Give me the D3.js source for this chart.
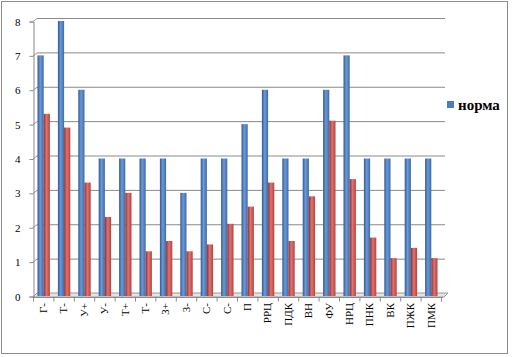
<!DOCTYPE html>
<html><head><meta charset="utf-8">
<script src="https://cdn.jsdelivr.net/npm/d3@7"></script>
<style>body{margin:0;background:#fff}svg{display:block}</style>
</head><body>
<script>
const categories = ["Г-","Т-","У+","У-","Т+","Т-","З+","З-","С-","С-","П","РРЦ","ПДК","ВН","ФУ","НРЦ","ПНК","ВК","ПЖК","ПМК"];
const normValues = [7,8,6,4,4,4,4,3,4,4,5,6,4,4,6,7,4,4,4,4];
const actualValues = [5.3,4.9,3.3,2.3,3.0,1.3,1.6,1.3,1.5,2.1,2.6,3.3,1.6,2.9,5.1,3.4,1.7,1.1,1.4,1.1];
const yTicks = [0,1,2,3,4,5,6,7,8];
const legendLabel = "норма";

(function(){
const FONT = "'Liberation Serif', 'Times New Roman', Tinos, serif";
const W = 513, H = 357;
const svg = d3.select("body").append("svg").attr("width", W).attr("height", H);

const defs = svg.append("defs");
function grad(id, dark, mid, light) {
  const g = defs.append("linearGradient").attr("id", id).attr("x1","0").attr("x2","1").attr("y1","0").attr("y2","0");
  g.append("stop").attr("offset","0%").attr("stop-color", dark);
  g.append("stop").attr("offset","45%").attr("stop-color", light);
  g.append("stop").attr("offset","100%").attr("stop-color", mid);
}
grad("gBlue", "#2f5a92", "#3d6aa8", "#6d9ad6");
grad("gRed", "#8e2f2c", "#b04440", "#e07370");

svg.append("rect").attr("x",1.5).attr("y",1.5).attr("width",506).attr("height",352)
  .attr("fill","#fff").attr("stroke","#8c8c8c").attr("stroke-width",1);

const mLeft = 33, mRight = 445, mTop = 21, mBottom = 296;
const y = d3.scaleLinear().domain([0,8]).range([mBottom, mTop]);
const x = d3.scaleBand().domain(d3.range(categories.length)).range([35, 443]).paddingInner(0).paddingOuter(0);

svg.append("g").selectAll("line").data(yTicks).join("line")
  .attr("x1", mLeft + 4).attr("x2", mRight)
  .attr("y1", d => y(d) - 2.5).attr("y2", d => y(d) - 2.5)
  .attr("stroke", "#8a8a8a").attr("stroke-width", 1);
svg.append("g").selectAll("line").data(yTicks).join("line")
  .attr("x1", mLeft).attr("x2", mLeft + 4)
  .attr("y1", d => y(d) + 0.5).attr("y2", d => y(d) - 2.5)
  .attr("stroke", "#9a9a9a");

svg.append("path").attr("d", `M${mLeft},${mBottom+1} L${mLeft+4},${mBottom-3} L${mRight+3},${mBottom-3} L${mRight-1},${mBottom+1} Z`)
  .attr("fill","#e4e4e4").attr("stroke","#9a9a9a");

const yAxis = d3.axisLeft(y).tickValues(yTicks).tickSize(4).tickPadding(9).tickFormat(d3.format("d"));
const ya = svg.append("g").attr("transform", `translate(${mLeft+0.5},0.5)`).call(yAxis);
ya.attr("font-family", null);
ya.select(".domain").attr("stroke","#8a8a8a");
ya.selectAll(".tick line").attr("stroke","#8a8a8a");
ya.selectAll("text").style("font-family", FONT).style("font-size","11px").attr("fill","#000");

const xa = svg.append("g").attr("transform", `translate(-2,${mBottom+1.5})`);
xa.append("line").attr("x1", mLeft+2).attr("x2", mRight).attr("stroke","#8a8a8a");
xa.selectAll(".tk").data(d3.range(categories.length + 1)).join("line").attr("class","tk")
  .attr("x1", i => 35 + i * x.step() + 0.5).attr("x2", i => 35 + i * x.step() + 0.5)
  .attr("y1", 0).attr("y2", 4).attr("stroke","#8a8a8a");
svg.append("g").selectAll("text").data(categories).join("text")
  .attr("transform", (d,i) => `translate(${x(i) + x.bandwidth()/2 - 2},303) rotate(-90)`)
  .attr("text-anchor","end").attr("dy","0.35em")
  .style("font-family", FONT).style("font-size","11px").attr("fill","#000")
  .text(d => d);

const bw = 6.2;
svg.append("g").selectAll("rect").data(normValues).join("rect")
  .attr("x", (d,i) => x(i) + x.bandwidth()/2 - bw - 1.5)
  .attr("y", d => y(d))
  .attr("width", bw).attr("height", d => mBottom - y(d))
  .attr("fill","url(#gBlue)");
svg.append("g").selectAll("rect").data(actualValues).join("rect")
  .attr("x", (d,i) => x(i) + x.bandwidth()/2 - 1.5)
  .attr("y", d => y(d))
  .attr("width", bw).attr("height", d => mBottom - y(d))
  .attr("fill","url(#gRed)");

svg.append("rect").attr("x",447).attr("y",101).attr("width",7).attr("height",7).attr("fill","#4a7ebb");
svg.append("text").attr("x",458).attr("y",110).text(legendLabel)
  .style("font-family", FONT).style("font-size","15px").style("font-weight","bold").attr("fill","#000");
})();
</script>
</body></html>
